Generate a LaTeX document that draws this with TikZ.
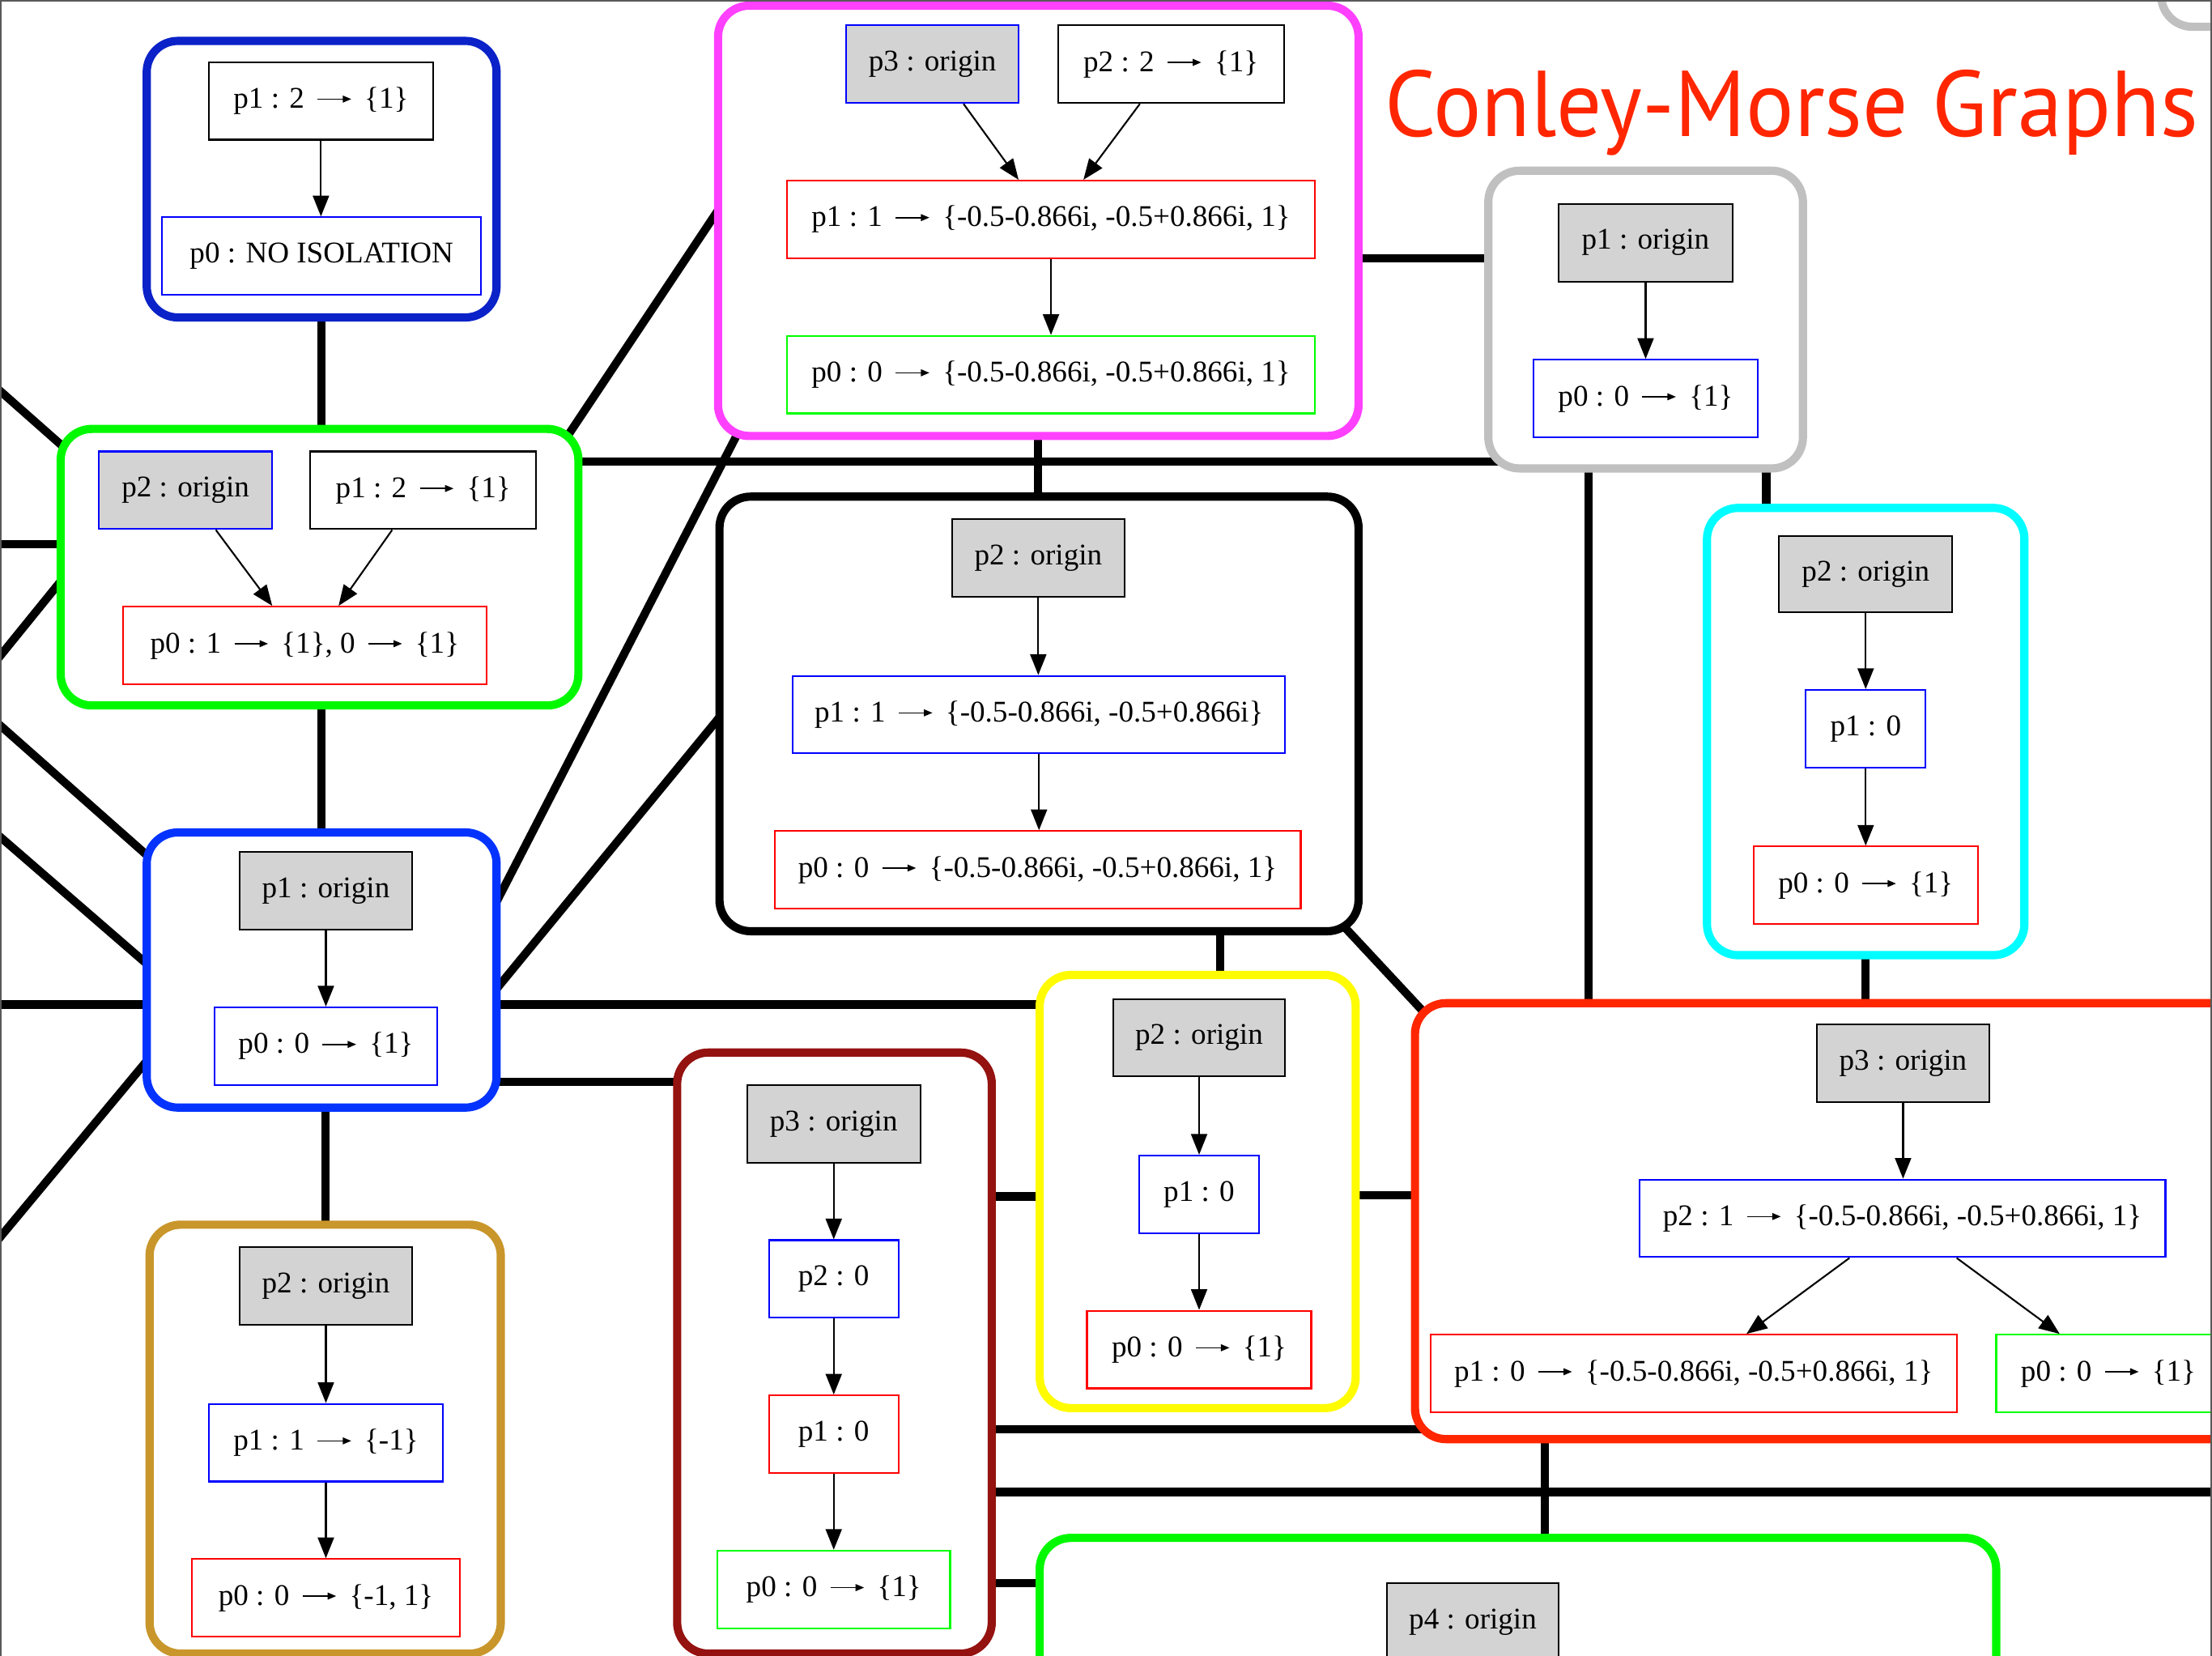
\documentclass[tikz,border=0pt]{standalone}
\usepackage{fontspec}
\setmainfont{Liberation Serif}
\newfontfamily\titlefont{PT Sans}
\usetikzlibrary{arrows.meta,calc}
\pgfdeclarelayer{bg}
\pgfsetlayers{bg,main}

% cluster frame colours
\definecolor{cA}{HTML}{0A22C8}
\definecolor{cB}{HTML}{00F900}
\definecolor{cC}{HTML}{FF40FF}
\definecolor{cD}{HTML}{C0C0C0}
\definecolor{cF}{HTML}{00FDFF}
\definecolor{cG}{HTML}{0433FF}
\definecolor{cH}{HTML}{FFFB00}
\definecolor{cI}{HTML}{FF2600}
\definecolor{cJ}{HTML}{C9962B}
\definecolor{cK}{HTML}{941210}
\definecolor{cL}{HTML}{00F900}
% inner node colours
\definecolor{nb}{HTML}{0000FF}
\definecolor{nr}{HTML}{FF0000}
\definecolor{ng}{HTML}{00FF00}
\definecolor{gvgray}{HTML}{D3D3D3}
\definecolor{titlered}{HTML}{FF2600}

\newcommand{\ulen}{0.0175cm}
% small arrow used inside the labels
\newcommand{\maps}{\hspace{0.42em}\tikz[baseline=-0.3em]\draw[black,line width=0.45pt,-{Triangle[length=3pt,width=2.4pt]}] (0,0) -- (1.12em,0);\hspace{0.42em}}

\begin{document}
\begin{tikzpicture}[x=\ulen, y=-\ulen,
  clu/.style n args={3}{draw=#1, line width=2.9pt, rounded corners=11pt, fill=white,
    inner sep=0pt, minimum width=#2*\ulen, minimum height=#3*\ulen},
  st/.style={draw=#1, line width=0.6pt, fill=white, inner sep=0pt,
    minimum height=55*\ulen, font=\fontsize{10.6pt}{12pt}\selectfont},
  og/.style={st=#1, fill=gvgray},
  wd/.style={minimum width=#1*\ulen},
  edge/.style={line width=0.6pt, -{Triangle[length=7.3pt,width=5.7pt]}},
  link/.style={line width=2.9pt, black}]

\useasboundingbox (0,0) rectangle (1568,1173.7);
\clip (0,0) rectangle (1568,1173.7);

% ---------- clusters ----------
\node[clu={cA}{248}{196}] (A) at (228,127) {};
\node[clu={cB}{367}{196}] (B) at (226.5,402) {};
\node[clu={cC}{454}{305}] (C) at (736,156.5) {};
\node[clu={cD}{223}{211}] (D) at (1166.5,226.5) {};
\node[clu={black}{453}{308}] (E) at (736.5,506) {};
\node[clu={cF}{225}{317}] (F) at (1322.5,518.5) {};
\node[clu={cG}{248}{195}] (G) at (228,687.5) {};
\node[clu={cH}{224}{307}] (H) at (849,844.5) {};
\node[clu={cI}{587}{309}] (I) at (1296.5,865.5) {};
\node[clu={cJ}{249}{304}] (J) at (230.5,1020) {};
\node[clu={cK}{223}{426}] (K) at (591.5,959) {};
\node[clu={cL}{678}{160}] (L) at (1076,1170) {};
\node[clu={cD}{140}{120}] (Z) at (1602,-41) {};

% ---------- free ends at the picture edge ----------
\coordinate (wB1) at (-5,272.6);
\coordinate (wB2) at (-5,385.5);
\coordinate (wB3) at (-5,471.2);
\coordinate (wG1) at (-5,509.6);
\coordinate (wG2) at (-5,588.7);
\coordinate (wG3) at (-5,712);
\coordinate (wG4) at (-5,883);
\coordinate (eK) at (1580,1057.5);

% ---------- links between clusters ----------
\begin{pgfonlayer}{bg}
\draw[link] (A.center) -- (A.center |- B.center);
\draw[link] ([shift={(153.5,-59.5)}]B.center) -- ([shift={(-211,-31.5)}]C.center);
\draw[link] (B.center |- 0,327) -- (D.center |- 0,327);
\draw[link] (C.center |- 0,183) -- (D.center |- 0,183);
\draw[link] (C.center) -- (C.center |- E.center);
\draw[link] (wB1) -- ([shift={(-146.5,-54.3)}]B.center);
\draw[link] (wB2) -- (B.center |- wB2);
\draw[link] (wB3) -- ([shift={(-146.5,-35.6)}]B.center);
\draw[link] (G.center) -- (G.center |- B.center);
\draw[link] (wG1) -- ([shift={(-78,-40.8)}]G.center);
\draw[link] (wG2) -- ([shift={(-78,35.5)}]G.center);
\draw[link] (wG3) -- (G.center |- wG3);
\draw[link] (wG4) -- ([shift={(-78,9.2)}]G.center);
\draw[link] ([shift={(92,13.7)}]G.center) -- ([shift={(-196,117.5)}]C.center);
\draw[link] ([shift={(92,52.3)}]G.center) -- ([shift={(-196.5,-34.2)}]E.center);
\draw[link] (G.center |- 0,712) -- (H.center |- 0,712);
\draw[link] (G.center |- 0,767) -- (K.center |- 0,767);
\draw[link] (J.center) -- (J.center |- G.center);
\draw[link] (E.center -| 865,0) -- (H.center -| 865,0);
\draw[link] ([shift={(193.5,126.3)}]E.center) -- ([shift={(-266.5,-125.9)}]I.center);
\draw[link] (D.center -| 1126,0) -- (I.center -| 1126,0);
\draw[link] (D.center -| 1252,0) -- (F.center -| 1252,0);
\draw[link] (F.center) -- (F.center |- I.center);
\draw[link] (K.center |- 0,848) -- (H.center |- 0,848);
\draw[link] (H.center |- 0,847) -- (I.center |- 0,847);
\draw[link] (K.center |- 0,1013) -- (I.center |- 0,1013);
\draw[link] (K.center |- eK) -- (eK);
\draw[link] (I.center -| 1095,0) -- (L.center -| 1095,0);
\draw[link] (K.center |- 0,1122) -- (L.center |- 0,1122);
\end{pgfonlayer}

% ---------- title ----------
\node[anchor=base, text=titlered, inner sep=0pt,
  font=\titlefont\fontsize{33pt}{36pt}\selectfont] (title) at (1270,97)
  {\scalebox{0.962}[1]{Conley-Morse Graphs}};

% ---------- cluster A ----------
\node[st=black, wd=159] (A1) at (227.5,71.5) {p1 : 2\maps\{1\}};
\node[st=nb, wd=226] (A2) at (228,181.5) {p0 : NO ISOLATION};
\draw[edge] (A1.south) -- (A1.south |- A2.north);

% ---------- cluster B ----------
\node[og=nb, wd=123] (B1) at (131.5,347.5) {p2 : origin};
\node[st=black, wd=160] (B2) at (300,347.5) {p1 : 2\maps\{1\}};
\node[st=nr, wd=258] (B3) at (216,457.5) {p0 : 1\maps\{1\}, 0\maps\{1\}};
\draw[edge] ([shift={(21.5,0)}]B1.south) -- ([shift={(-23,0)}]B3.north);
\draw[edge] ([shift={(-22,0)}]B2.south) -- ([shift={(24,0)}]B3.north);

% ---------- cluster C ----------
\node[og=nb, wd=122] (C1) at (661,45.5) {p3 : origin};
\node[st=black, wd=160] (C2) at (830,45.5) {p2 : 2\maps\{1\}};
\node[st=nr, wd=374] (C3) at (745,155.5) {p1 : 1\maps\{-0.5-0.866i, -0.5+0.866i, 1\}};
\node[st=ng, wd=374] (C4) at (745,265.5) {p0 : 0\maps\{-0.5-0.866i, -0.5+0.866i, 1\}};
\draw[edge] ([shift={(22,0)}]C1.south) -- ([shift={(-23,0)}]C3.north);
\draw[edge] ([shift={(-22,0)}]C2.south) -- ([shift={(23,0)}]C3.north);
\draw[edge] (C3) -- (C4);

% ---------- cluster D ----------
\node[og=black, wd=123] (D1) at (1166.5,172) {p1 : origin};
\node[st=nb, wd=159] (D2) at (1166.5,282.5) {p0 : 0\maps\{1\}};
\draw[edge] (D1) -- (D2);

% ---------- cluster E ----------
\node[og=black, wd=122] (E1) at (736,395.5) {p2 : origin};
\node[st=nb, wd=349] (E2) at (736.5,506.5) {p1 : 1\maps\{-0.5-0.866i, -0.5+0.866i\}};
\node[st=nr, wd=373] (E3) at (735.5,616.5) {p0 : 0\maps\{-0.5-0.866i, -0.5+0.866i, 1\}};
\draw[edge] (E1.south) -- (E1.south |- E2.north);
\draw[edge] (E2.south) -- (E2.south |- E3.north);

% ---------- cluster F ----------
\node[og=black, wd=123, minimum height=54*\ulen] (F1) at (1322.5,407) {p2 : origin};
\node[st=nb, wd=85] (F2) at (1322.5,516.5) {p1 : 0};
\node[st=nr, wd=159] (F3) at (1322.5,627.5) {p0 : 0\maps\{1\}};
\draw[edge] (F1) -- (F2);
\draw[edge] (F2) -- (F3);

% ---------- cluster G ----------
\node[og=black, wd=122] (G1) at (231,631.5) {p1 : origin};
\node[st=nb, wd=158] (G2) at (231,741.5) {p0 : 0\maps\{1\}};
\draw[edge] (G1) -- (G2);

% ---------- cluster H ----------
\node[og=black, wd=122] (H1) at (850,735.5) {p2 : origin};
\node[st=nb, wd=85] (H2) at (850,846.5) {p1 : 0};
\node[st=nr, wd=159] (H3) at (850,956.5) {p0 : 0\maps\{1\}};
\draw[edge] (H1) -- (H2);
\draw[edge] (H2) -- (H3);

% ---------- cluster I ----------
\node[og=black, wd=122] (I1) at (1349,753.5) {p3 : origin};
\node[st=nb, wd=373] (I2) at (1348.5,863.5) {p2 : 1\maps\{-0.5-0.866i, -0.5+0.866i, 1\}};
\node[st=nr, wd=373] (I3) at (1200.5,973.5) {p1 : 0\maps\{-0.5-0.866i, -0.5+0.866i, 1\}};
\node[st=ng, wd=159] (I4) at (1494.5,973.5) {p0 : 0\maps\{1\}};
\draw[edge] (I1.south) -- (I1.south |- I2.north);
\draw[edge] ([shift={(-37.5,0)}]I2.south) -- ([shift={(37.5,0)}]I3.north);
\draw[edge] ([shift={(38.5,0)}]I2.south) -- ([shift={(-34.5,0)}]I4.north);

% ---------- cluster J ----------
\node[og=black, wd=122] (J1) at (231,911.5) {p2 : origin};
\node[st=nb, wd=166] (J2) at (231,1022.5) {p1 : 1\maps\{-1\}};
\node[st=nr, wd=190] (J3) at (231,1132.5) {p0 : 0\maps\{-1, 1\}};
\draw[edge] (J1) -- (J2);
\draw[edge] (J2) -- (J3);

% ---------- cluster K ----------
\node[og=black, wd=123] (K1) at (591,796.5) {p3 : origin};
\node[st=nb, wd=92] (K2) at (591,906.5) {p2 : 0};
\node[st=nr, wd=92] (K3) at (591,1016.5) {p1 : 0};
\node[st=ng, wd=165] (K4) at (591,1126.5) {p0 : 0\maps\{1\}};
\draw[edge] (K1) -- (K2);
\draw[edge] (K2) -- (K3);
\draw[edge] (K3) -- (K4);

% ---------- cluster L ----------
\node[og=black, wd=122] (L1) at (1044,1149.5) {p4 : origin};

% ---------- page frame ----------
\draw[line width=0.5pt, black!65] (0.4,1180) -- (0.4,0.4) -- (1567.6,0.4) -- (1567.6,1180);
\end{tikzpicture}
\end{document}
